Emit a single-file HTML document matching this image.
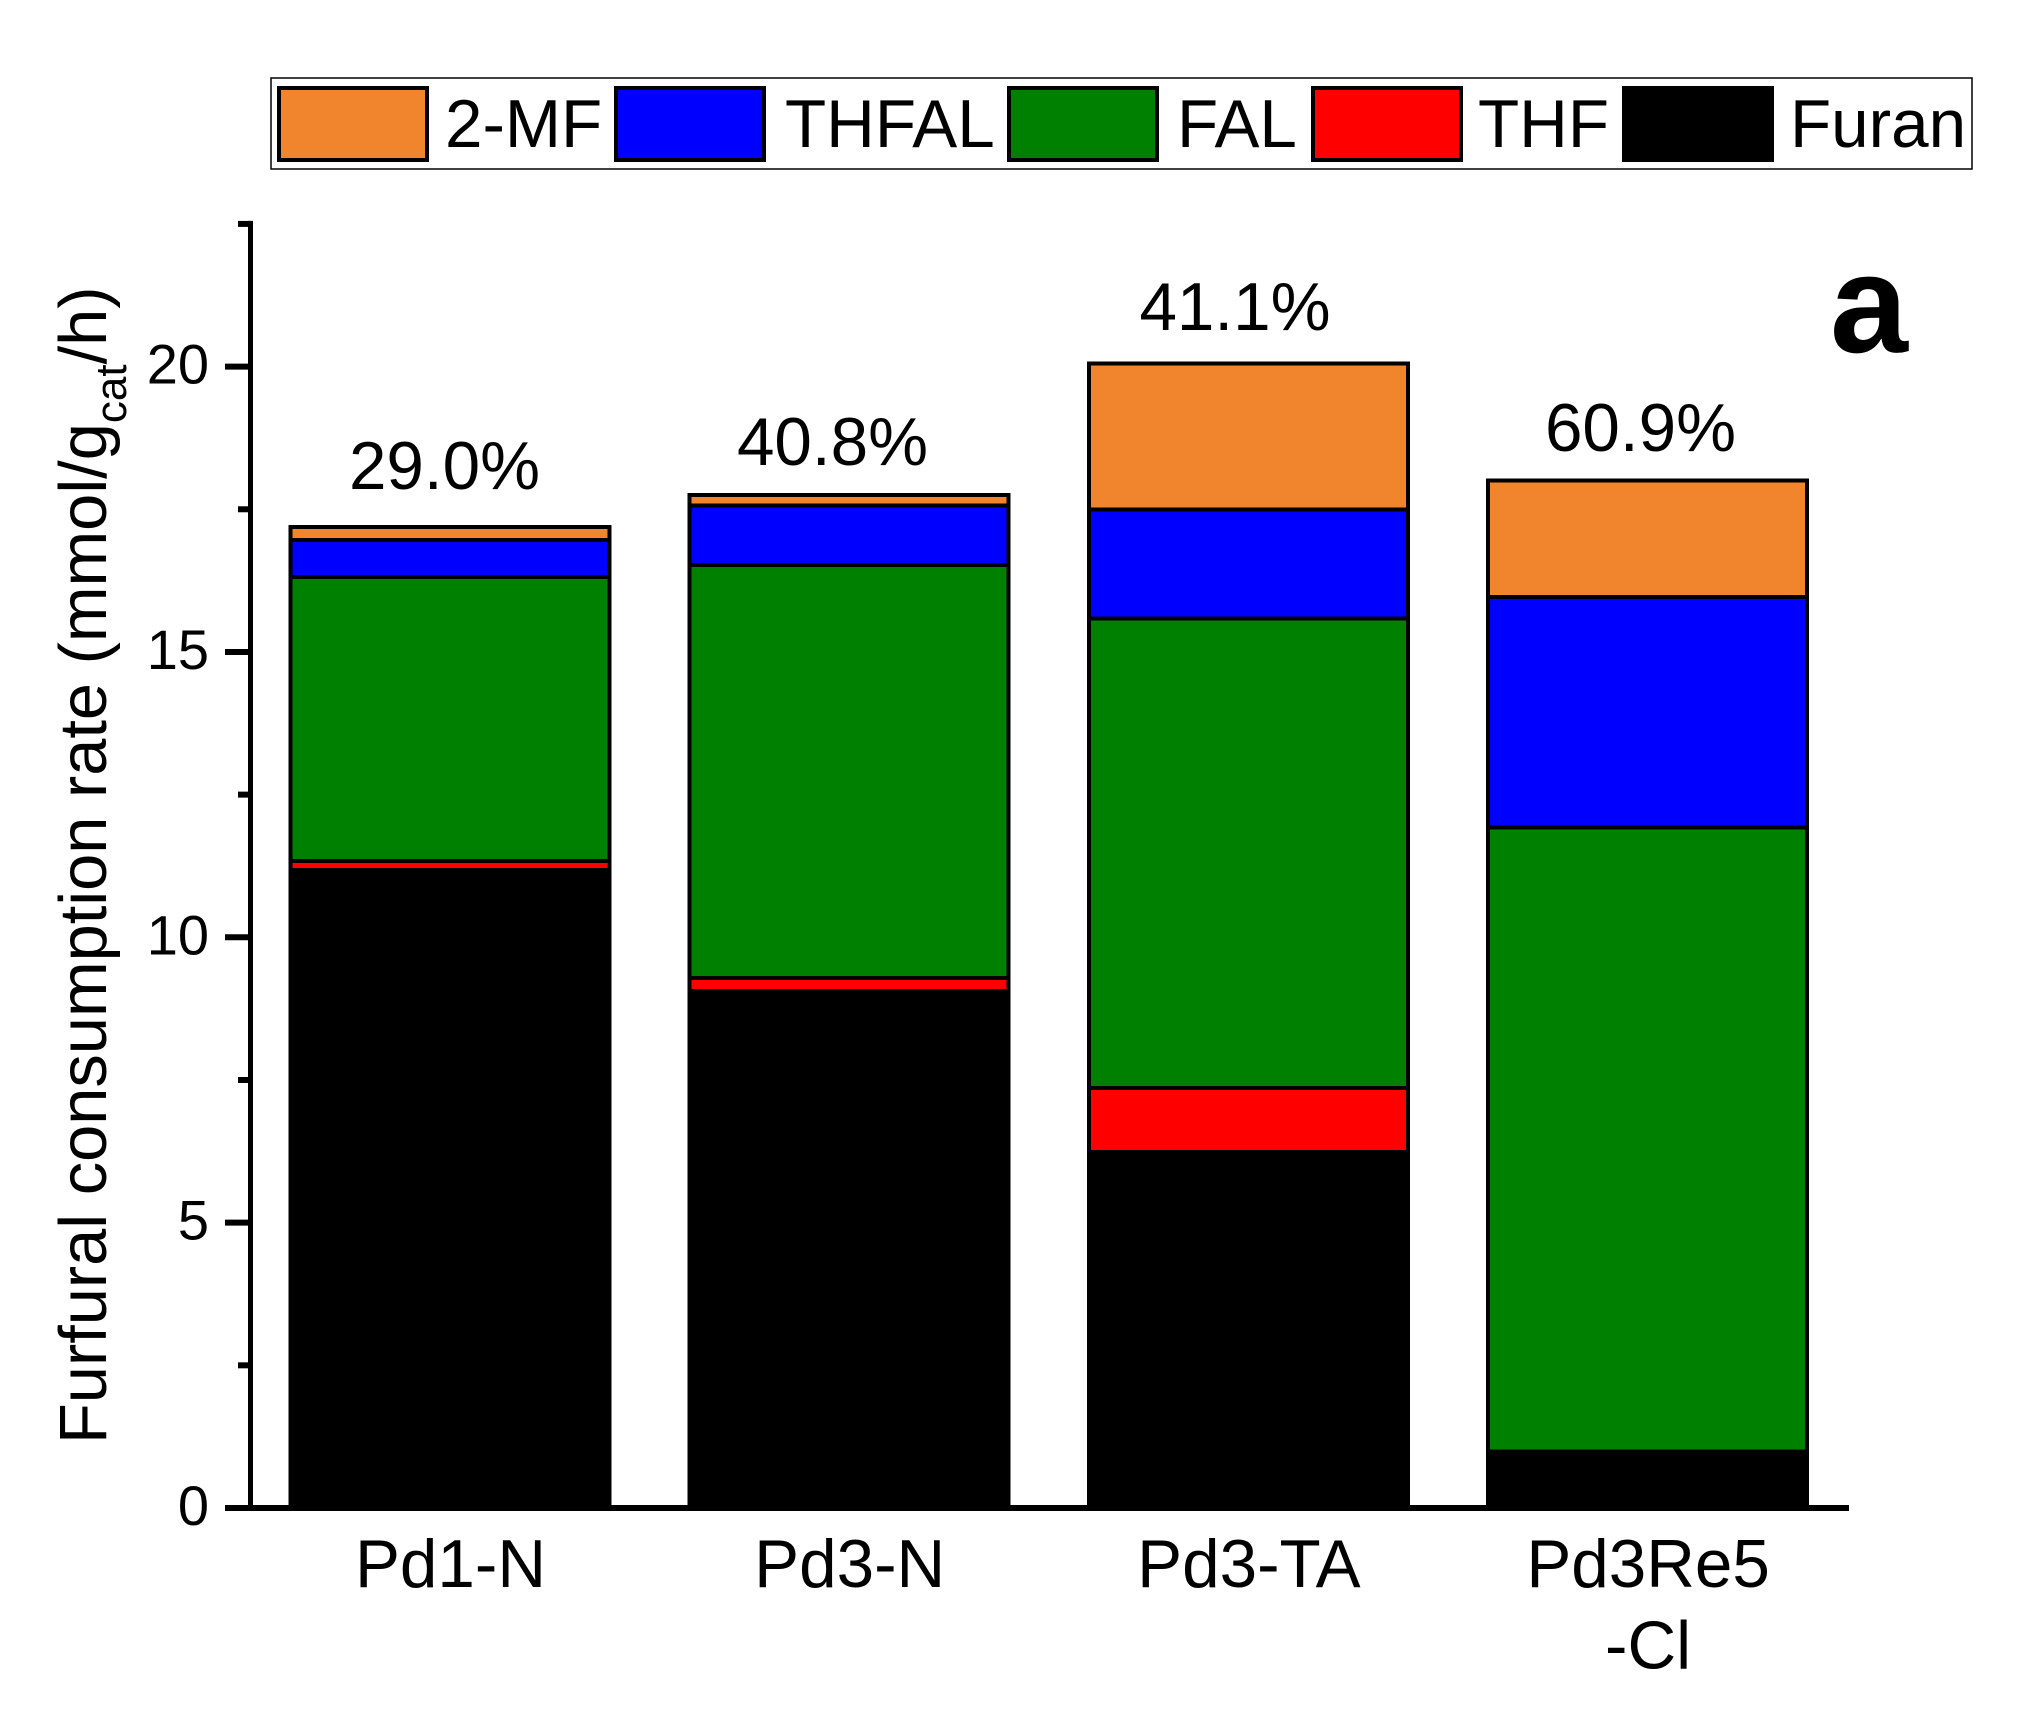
<!DOCTYPE html>
<html lang="en">
<head>
<meta charset="utf-8">
<title>Furfural consumption rate</title>
<style>
html,body{margin:0;padding:0;background:#fff;}
svg{display:block;}
text{font-family:"Liberation Sans",Arial,sans-serif;fill:#000;}
</style>
</head>
<body>
<svg id="chart" xmlns="http://www.w3.org/2000/svg" width="2022" height="1724" viewBox="0 0 2022 1724">
  <rect x="0" y="0" width="2022" height="1724" fill="#fff"/>
  <g id="bars" shape-rendering="crispEdges"></g>
  <g id="axes"></g>

  <g>
    <rect x="271" y="78" width="1701" height="91" fill="#fff" stroke="#000" stroke-width="1.5"/>
    <g shape-rendering="crispEdges" stroke="#000" stroke-width="4">
      <rect x="279" y="88" width="148" height="72" fill="#f0852d"/>
      <rect x="616" y="88" width="148" height="72" fill="#0000ff"/>
      <rect x="1009" y="88" width="148" height="72" fill="#008000"/>
      <rect x="1313" y="88" width="148" height="72" fill="#ff0000"/>
      <rect x="1624" y="88" width="148" height="72" fill="#000000"/>
    </g>
    <g font-size="67.4">
      <text x="445" y="147">2-MF</text>
      <text x="785" y="147">THFAL</text>
      <text x="1177" y="147">FAL</text>
      <text x="1478" y="147">THF</text>
      <text x="1790" y="147">Furan</text>
    </g>
  </g>

  <g font-size="67.4" text-anchor="middle">
    <text x="444.5" y="489">29.0%</text>
    <text x="832.5" y="465">40.8%</text>
    <text x="1235" y="330">41.1%</text>
    <text x="1640.5" y="451">60.9%</text>
  </g>

  <text x="1830" y="352" font-size="140" font-weight="bold">a</text>

  <text transform="translate(106,1444) rotate(-90)" font-size="66.8">Furfural consumption rate (mmol/g<tspan font-size="44" dy="20">cat</tspan><tspan dy="-20">/h)</tspan></text>
</svg>

<script>
const categories = [["Pd1-N"], ["Pd3-N"], ["Pd3-TA"], ["Pd3Re5", "-Cl"]];
const furan = [11.18, 9.06, 6.24, 0.99];
const thf = [0.16, 0.23, 1.12, 0];
const fal = [4.97, 7.23, 8.23, 10.93];
const thfal = [0.65, 1.05, 1.91, 4.04];
const mf2 = [0.23, 0.18, 2.55, 2.04];
const seriesNames = ["furan", "thf", "fal", "thfal", "2-mf"];
const seriesColors = ["#000000", "#ff0000", "#008000", "#0000ff", "#f0852d"];
const majorTicks = [0, 5, 10, 15, 20];
const minorTicks = [2.5, 7.5, 12.5, 17.5, 22.5];

const NS = "http://www.w3.org/2000/svg";
const seriesValues = [furan, thf, fal, thfal, mf2];

function yScale(v) { return 1508 - v * 57.07; }
function xScale(i) { return 450 + i * 399.2; }

const barsGroup = document.getElementById("bars");
const axesGroup = document.getElementById("axes");
const barWidth = 319;

categories.forEach(function (cat, i) {
  let base = 0;
  seriesValues.forEach(function (values, s) {
    const v = values[i];
    const top = base + v;
    const r = document.createElementNS(NS, "rect");
    r.setAttribute("x", xScale(i) - barWidth / 2);
    r.setAttribute("y", yScale(top));
    r.setAttribute("width", barWidth);
    r.setAttribute("height", Math.max(0, yScale(base) - yScale(top)));
    r.setAttribute("fill", seriesColors[s]);
    r.setAttribute("stroke", "#000");
    r.setAttribute("stroke-width", "4");
    
    
    if (v > 0) barsGroup.appendChild(r);
    base = top;
  });
});

function line(x1, y1, x2, y2, w, name) {
  const l = document.createElementNS(NS, "line");
  l.setAttribute("x1", x1);
  l.setAttribute("y1", y1);
  l.setAttribute("x2", x2);
  l.setAttribute("y2", y2);
  l.setAttribute("stroke", "#000");
  l.setAttribute("stroke-width", w);
  
  
  axesGroup.appendChild(l);
}

line(250.5, yScale(22.5) - 3, 250.5, yScale(0) + 3, 5, "y-axis-line");
line(225, yScale(0), 1849, yScale(0), 6, "x-axis-line");

majorTicks.forEach(function (v) {
  line(225, yScale(v), 250, yScale(v), 6, "y-major-tick-" + v);
  const t = document.createElementNS(NS, "text");
  t.setAttribute("x", 209);
  t.setAttribute("y", yScale(v) + 17);
  t.setAttribute("font-size", "56");
  t.setAttribute("text-anchor", "end");
  
  
  t.textContent = String(v);
  axesGroup.appendChild(t);
});

minorTicks.forEach(function (v) {
  line(238, yScale(v), 250, yScale(v), 6, "y-minor-tick-" + v);
});

categories.forEach(function (cat, i) {
  cat.forEach(function (row, k) {
    const t = document.createElementNS(NS, "text");
    t.setAttribute("x", xScale(i) + 0.5);
    t.setAttribute("y", 1587 + k * 81.5);
    t.setAttribute("font-size", "67.4");
    t.setAttribute("text-anchor", "middle");
    
    
    t.textContent = row;
    axesGroup.appendChild(t);
  });
});
</script>
</body>
</html>
